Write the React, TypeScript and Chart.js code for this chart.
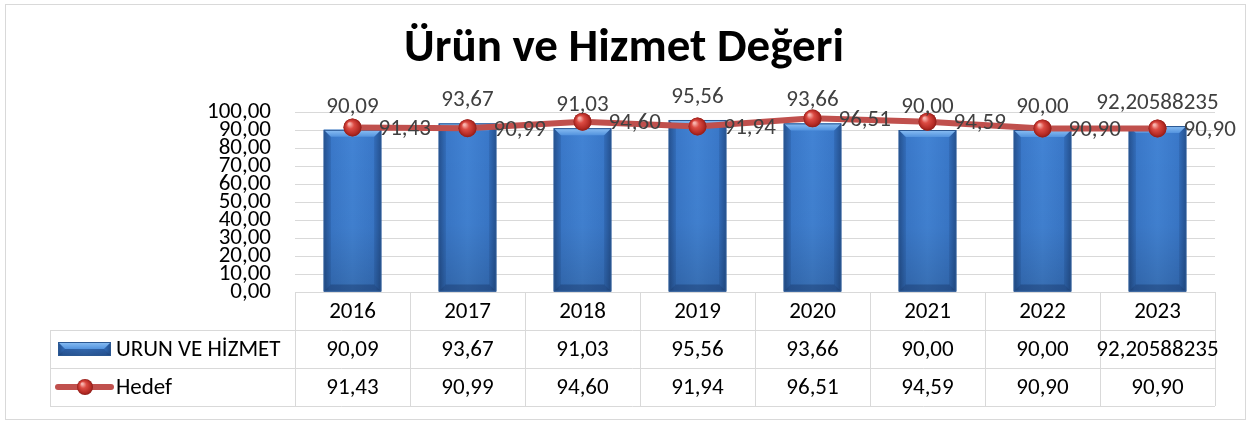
import React, { useEffect, useRef } from 'react';
import { Chart, registerables } from 'chart.js';
Chart.register(...registerables);

const titleText = 'Ürün ve Hizmet Değeri';
const years = ['2016', '2017', '2018', '2019', '2020', '2021', '2022', '2023'];
const urunName = 'URUN VE HİZMET';
const urunValues = [90.09, 93.67, 91.03, 95.56, 93.66, 90.0, 90.0, 92.20588235];
const hedefName = 'Hedef';
const hedefValues = [91.43, 90.99, 94.6, 91.94, 96.51, 94.59, 90.9, 90.9];
const yMin = 0;
const yMax = 100;
const yStep = 10;

const FONT = 'Carlito, Lato, sans-serif';
const GRID = '#d9d9d9';
const TXT = 23;

function fmt(v: number): string {
  const s = String(v);
  const dec = s.includes('.') ? s.split('.')[1].length : 0;
  return (dec > 2 ? s : v.toFixed(2)).replace('.', ',');
}

function drawBarShape(ctx: CanvasRenderingContext2D, left: number, top: number, right: number, bottom: number) {
  const w = right - left;
  const h = bottom - top;
  const g = ctx.createLinearGradient(left, 0, right, 0);
  g.addColorStop(0, '#2a5a9c');
  g.addColorStop(0.1, '#3977c8');
  g.addColorStop(0.5, '#4283d4');
  g.addColorStop(0.9, '#3977c8');
  g.addColorStop(1, '#2a5a9c');
  ctx.fillStyle = g;
  ctx.fillRect(left, top, w, h);
  const gv = ctx.createLinearGradient(0, top, 0, bottom);
  gv.addColorStop(0, 'rgba(0,0,0,0)');
  gv.addColorStop(0.6, 'rgba(0,0,0,0.03)');
  gv.addColorStop(1, 'rgba(0,0,0,0.16)');
  ctx.fillStyle = gv;
  ctx.fillRect(left, top, w, h);
  const bev = Math.min(7, h / 2);
  const gt = ctx.createLinearGradient(0, top, 0, top + bev);
  gt.addColorStop(0, '#8cc0f4');
  gt.addColorStop(1, '#5393de');
  ctx.fillStyle = gt;
  ctx.beginPath();
  ctx.moveTo(left, top);
  ctx.lineTo(right, top);
  ctx.lineTo(right - bev, top + bev);
  ctx.lineTo(left + bev, top + bev);
  ctx.closePath();
  ctx.fill();
  ctx.fillStyle = 'rgba(20,50,100,0.22)';
  ctx.beginPath();
  ctx.moveTo(left, top);
  ctx.lineTo(left + bev, top + bev);
  ctx.lineTo(left + bev, bottom - bev);
  ctx.lineTo(left, bottom);
  ctx.closePath();
  ctx.fill();
  ctx.beginPath();
  ctx.moveTo(right, top);
  ctx.lineTo(right - bev, top + bev);
  ctx.lineTo(right - bev, bottom - bev);
  ctx.lineTo(right, bottom);
  ctx.closePath();
  ctx.fill();
  ctx.fillStyle = 'rgba(10,30,70,0.28)';
  ctx.beginPath();
  ctx.moveTo(left, bottom);
  ctx.lineTo(left + bev, bottom - bev);
  ctx.lineTo(right - bev, bottom - bev);
  ctx.lineTo(right, bottom);
  ctx.closePath();
  ctx.fill();
  ctx.strokeStyle = '#2b5893';
  ctx.lineWidth = 1;
  ctx.strokeRect(left + 0.5, top + 0.5, w - 1, h - 1);
}

function drawBall(ctx: CanvasRenderingContext2D, x: number, y: number, r: number) {
  const g = ctx.createRadialGradient(x - r * 0.35, y - r * 0.4, r * 0.1, x, y, r);
  g.addColorStop(0, '#f7b3ad');
  g.addColorStop(0.35, '#dc4b43');
  g.addColorStop(0.8, '#b42a24');
  g.addColorStop(1, '#8c1c18');
  ctx.fillStyle = g;
  ctx.beginPath();
  ctx.arc(x, y, r, 0, Math.PI * 2);
  ctx.fill();
}

const decor = {
  id: 'decor',
  beforeDraw(chart: any) {
    const ctx = chart.ctx;
    ctx.save();
    ctx.fillStyle = '#fff';
    ctx.fillRect(0, 0, chart.width, chart.height);
    ctx.strokeStyle = GRID;
    ctx.lineWidth = 1;
    ctx.strokeRect(5.5, 4.5, 1240, 415);
    ctx.restore();
  },
  afterDatasetDraw(chart: any, args: any) {
    const ctx = chart.ctx;
    const meta = chart.getDatasetMeta(args.index);
    ctx.save();
    if (args.index === 0) {
      meta.data.forEach((el: any) => {
        const p = el.getProps(['x', 'y', 'base', 'width'], true);
        drawBarShape(ctx, p.x - p.width / 2, p.y, p.x + p.width / 2, p.base);
      });
    } else {
      meta.data.forEach((el: any) => {
        const p = el.getProps(['x', 'y'], true);
        drawBall(ctx, p.x, p.y, 9);
      });
    }
    ctx.restore();
  },
  afterDraw(chart: any) {
    const ctx = chart.ctx;
    const area = chart.chartArea;
    const xs = chart.scales.x;
    ctx.save();
    ctx.fillStyle = '#000';
    ctx.font = `bold 47px ${FONT}`;
    ctx.textAlign = 'center';
    ctx.textBaseline = 'alphabetic';
    ctx.fillText(titleText, 624, 61);

    ctx.font = `${TXT}px ${FONT}`;
    ctx.fillStyle = '#404040';
    const barMeta = chart.getDatasetMeta(0);
    barMeta.data.forEach((el: any, i: number) => {
      const p = el.getProps(['x', 'y'], true);
      ctx.textAlign = 'center';
      ctx.textBaseline = 'alphabetic';
      ctx.fillText(fmt(urunValues[i]), p.x, p.y - 17);
    });
    const lineMeta = chart.getDatasetMeta(1);
    lineMeta.data.forEach((el: any, i: number) => {
      const p = el.getProps(['x', 'y'], true);
      ctx.textAlign = 'left';
      ctx.textBaseline = 'middle';
      ctx.fillText(fmt(hedefValues[i]), p.x + 26, p.y + 2);
    });

    const half = (xs.getPixelForValue(1) - xs.getPixelForValue(0)) / 2;
    const top = area.bottom;
    const rowH = 38;
    const tableLeft = 50;
    ctx.strokeStyle = GRID;
    ctx.lineWidth = 1;
    ctx.beginPath();
    for (let r = 1; r <= 3; r++) {
      const y = Math.round(top + rowH * r) + 0.5;
      ctx.moveTo(tableLeft, y);
      ctx.lineTo(area.right, y);
    }
    ctx.moveTo(tableLeft + 0.5, top + rowH);
    ctx.lineTo(tableLeft + 0.5, top + rowH * 3);
    for (let i = 0; i <= years.length; i++) {
      const x = Math.round(xs.getPixelForValue(0) - half + 2 * half * i) + 0.5;
      ctx.moveTo(x, top);
      ctx.lineTo(x, top + rowH * 3);
    }
    ctx.stroke();

    ctx.fillStyle = '#000';
    ctx.font = `${TXT}px ${FONT}`;
    ctx.textAlign = 'center';
    ctx.textBaseline = 'middle';
    years.forEach((yr, i) => {
      const cx = xs.getPixelForValue(i);
      ctx.fillText(yr, cx, top + rowH * 0.5 + 1);
      ctx.fillText(fmt(urunValues[i]), cx, top + rowH * 1.5 + 1);
      ctx.fillText(fmt(hedefValues[i]), cx, top + rowH * 2.5 + 1);
    });
    ctx.textAlign = 'left';
    ctx.fillText(urunName, 116, top + rowH * 1.5 + 1);
    ctx.fillText(hedefName, 116, top + rowH * 2.5 + 1);

    drawBarShape(ctx, 58, top + rowH + 12, 111, top + rowH + 26);
    const ly = top + rowH * 2.5;
    ctx.strokeStyle = '#c0504d';
    ctx.lineWidth = 6;
    ctx.lineCap = 'round';
    ctx.beginPath();
    ctx.moveTo(58, ly);
    ctx.lineTo(111, ly);
    ctx.stroke();
    drawBall(ctx, 85, ly, 8);
    ctx.restore();
  },
};

export default function App() {
  const ref = useRef<HTMLCanvasElement | null>(null);
  useEffect(() => {
    document.body.style.margin = '0';
    if (!ref.current) return;
    const chart = new Chart(ref.current, {
      type: 'bar',
      data: {
        labels: years,
        datasets: [
          {
            type: 'bar',
            label: urunName,
            data: urunValues,
            backgroundColor: '#3977c8',
            borderWidth: 0,
            categoryPercentage: 1,
            barPercentage: 0.5,
            order: 2,
          },
          {
            type: 'line',
            label: hedefName,
            data: hedefValues,
            borderColor: '#c0504d',
            borderWidth: 6,
            pointRadius: 9,
            pointBackgroundColor: '#c0443e',
            pointBorderWidth: 0,
            tension: 0,
            order: 1,
          } as any,
        ],
      },
      options: {
        responsive: false,
        animation: false,
        devicePixelRatio: 1,
        layout: { padding: { left: 0, right: 39, top: 112, bottom: 131 } },
        plugins: { legend: { display: false }, title: { display: false }, tooltip: { enabled: false } },
        scales: {
          x: { display: false, offset: true, grid: { display: false } },
          y: {
            min: yMin,
            max: yMax,
            border: { display: false },
            grid: { color: GRID, lineWidth: 1, drawTicks: false },
            ticks: {
              stepSize: yStep,
              autoSkip: false,
              padding: 24,
              color: '#000',
              font: { family: FONT, size: TXT },
              callback: (v: any) => Number(v).toFixed(2).replace('.', ','),
            },
            afterFit: (s: any) => {
              s.width = 295;
            },
          },
        },
      },
      plugins: [decor],
    });
    return () => chart.destroy();
  }, []);
  return (
    <div style={{ width: 1254, height: 423 }}>
      <canvas ref={ref} width={1254} height={423} style={{ display: 'block' }} />
    </div>
  );
}
